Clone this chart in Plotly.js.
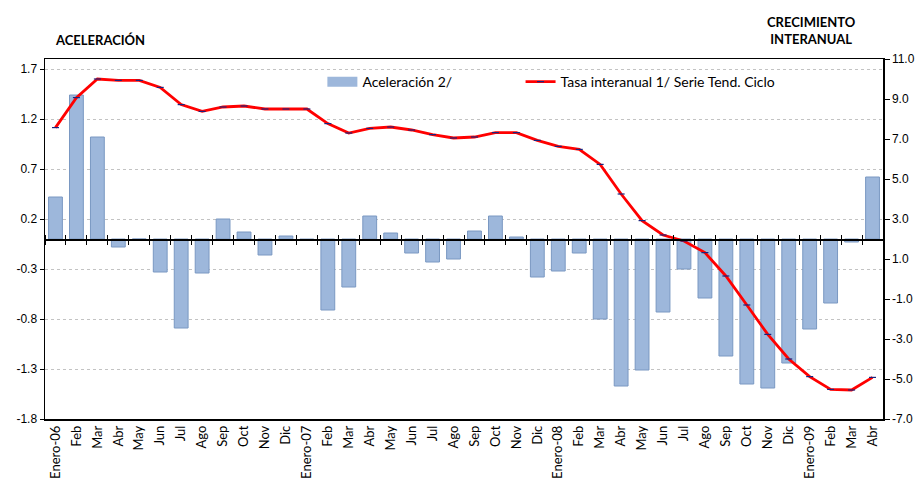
<!DOCTYPE html>
<html><head><meta charset="utf-8">
<script src="https://cdn.plot.ly/plotly-3.0.1.min.js"></script>
<style>body{margin:0;background:#fff}#c{width:923px;height:491px}</style>
</head><body><div id="c"></div>
<script>
const months = ["Enero-06","Feb","Mar","Abr","May","Jun","Jul","Ago","Sep","Oct","Nov","Dic",
"Enero-07","Feb","Mar","Abr","May","Jun","Jul","Ago","Sep","Oct","Nov","Dic",
"Enero-08","Feb","Mar","Abr","May","Jun","Jul","Ago","Sep","Oct","Nov","Dic",
"Enero-09","Feb","Mar","Abr"];
const aceleracion = [0.42,1.44,1.02,-0.08,0.0,-0.33,-0.89,-0.34,0.20,0.07,-0.16,0.03,
-0.01,-0.71,-0.48,0.23,0.06,-0.14,-0.23,-0.20,0.08,0.23,0.02,-0.38,
-0.32,-0.14,-0.80,-1.47,-1.31,-0.73,-0.30,-0.59,-1.17,-1.45,-1.49,-1.24,
-0.90,-0.64,-0.03,0.62];
const tasa = [7.57,9.07,10.0,9.93,9.93,9.58,8.72,8.38,8.6,8.65,8.5,8.5,
8.5,7.77,7.3,7.53,7.6,7.45,7.22,7.05,7.1,7.32,7.32,6.93,
6.63,6.48,5.73,4.25,2.92,2.2,1.9,1.32,0.15,-1.3,-2.77,-4.0,
-4.88,-5.52,-5.55,-4.92];
const leftTicks = [-1.8,-1.3,-0.8,-0.3,0.2,0.7,1.2,1.7];
const rightTicks = [-7,-5,-3,-1,1,3,5,7,9,11];

const cats = months.map((m,i)=>i);
const bounds = cats.concat([cats.length]).map(v=>v-0.5);
const tickFont = {family:"Liberation Sans, Arial", size:12, color:"#000"};
const barColor = "#9db7db";

const traces = [
 {type:"bar", name:"Aceleración 2/", x:cats, y:aceleracion, xaxis:"x", yaxis:"y", showlegend:false,
  width:0.66, marker:{color:barColor, line:{color:"#7a98c2", width:1}}},
 {type:"scatter", mode:"lines", name:"Aceleración 2/", x:[null], y:[null], xaxis:"x", yaxis:"y",
  line:{color:barColor, width:11}, hoverinfo:"skip"},
 {type:"scatter", mode:"lines+markers", name:"Tasa interanual 1/ Serie Tend. Ciclo", legend:"legend2",
  x:cats, y:tasa, xaxis:"x", yaxis:"y2",
  line:{color:"#ff0000", width:2.8}, marker:{symbol:"line-ew", size:5, color:"#1a237e", line:{color:"#1a237e", width:1.2}}},
 {type:"scatter", mode:"markers", x:cats, y:cats.map(()=>null), xaxis:"x2", yaxis:"y", showlegend:false, hoverinfo:"skip"},
 {type:"scatter", mode:"markers", x:cats, y:cats.map(()=>null), xaxis:"x3", yaxis:"y", showlegend:false, hoverinfo:"skip"}
];

const layout = {
 width:923, height:491,
 margin:{l:45, r:40, t:59, b:72},
 paper_bgcolor:"#fff", plot_bgcolor:"#fff",
 showlegend:true,
 legend:{orientation:"h", x:0.331, y:0.936, xanchor:"left", yanchor:"middle",
   bgcolor:"rgba(0,0,0,0)", font:{family:"Lato", size:14, color:"#000"}},
 legend2:{orientation:"h", x:0.5675, y:0.936, xanchor:"left", yanchor:"middle",
   bgcolor:"rgba(0,0,0,0)", font:{family:"Lato", size:14, color:"#000"}},
 xaxis:{type:"linear", range:[-0.5,39.5], tickmode:"array", tickvals:cats, ticktext:months,
   tickangle:-90, tickfont:{family:"Lato", size:13, color:"#000"}, ticks:"",
   showline:true, linecolor:"#000", linewidth:1.5, mirror:true, showgrid:false, zeroline:false},
 xaxis2:{type:"linear", range:[-0.5,39.5], overlaying:"x", anchor:"free", position:0.5,
   tickmode:"array", tickvals:bounds, showticklabels:false,
   ticks:"outside", ticklen:4, tickcolor:"#000", tickwidth:1,
   showline:true, linecolor:"#000", linewidth:1.5, showgrid:false, zeroline:false},
 xaxis3:{type:"linear", range:[-0.5,39.5], overlaying:"x", anchor:"free", position:0.5, side:"top",
   tickmode:"array", tickvals:bounds, showticklabels:false,
   ticks:"outside", ticklen:4, tickcolor:"#000", tickwidth:1,
   showline:false, showgrid:false, zeroline:false},
 yaxis:{range:[-1.8,1.8], tickmode:"array", tickvals:leftTicks, ticktext:leftTicks.map(v=>v.toFixed(1)),
   tickfont:tickFont, ticks:"outside", ticklen:4, tickcolor:"#000",
   showline:true, linecolor:"#000", linewidth:1.5,
   showgrid:true, gridcolor:"#b4b4b4", griddash:"dot", gridwidth:0.8, zeroline:false},
 yaxis2:{range:[-7,11], overlaying:"y", side:"right", tickmode:"array", tickvals:rightTicks,
   ticktext:rightTicks.map(v=>v.toFixed(1)), tickfont:tickFont, ticks:"outside", ticklen:5, tickcolor:"#000",
   showline:true, linecolor:"#000", linewidth:1.5, showgrid:false, zeroline:false},
 annotations:[
  {text:"<b>ACELERACIÓN</b>", xref:"paper", yref:"paper", x:0.009, y:1.0, xanchor:"left", yanchor:"bottom",
   yshift:9, showarrow:false, font:{family:"Lato", size:13, color:"#000"}},
  {text:"<b>CRECIMIENTO<br>INTERANUAL</b>", xref:"paper", yref:"paper", x:0.915, y:1.0, xanchor:"center", yanchor:"bottom",
   yshift:10, showarrow:false, align:"center", font:{family:"Lato", size:13, color:"#000"}}
 ]
};
Plotly.newPlot("c", traces, layout, {staticPlot:true, displayModeBar:false});
</script></body></html>
